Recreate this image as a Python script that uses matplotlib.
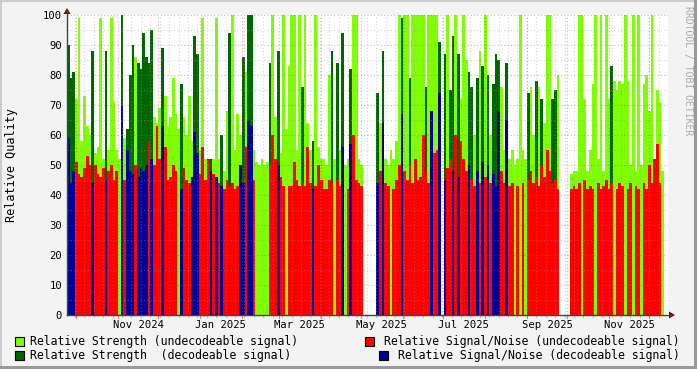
import datetime as dt
import matplotlib
matplotlib.use('Agg')
import matplotlib.pyplot as plt
from matplotlib.patches import Rectangle, Polygon

plt.rcParams['font.family'] = ['DejaVu Sans Mono', 'DejaVu Sans']

# one sample every 2 days, starting at the left edge of the graph
start = dt.datetime(2024, 9, 24, 2)
step_days = 2

# r = strength undecodeable + s/n undecodeable, b = both decodeable,
# y = strength decodeable + s/n undecodeable, x = strength undecodeable + s/n decodeable,
# g = strength only (undecodeable), n = no data
kinds = ("bbbrrrrrrb" "rrrrbrrrrg" "brbbbrbbbb" "ybrrrbrrrr" "rgbrrrxbbr"
         "rrrbrxrbrr" "yrrrxbrbbr" "gggggyrrbr" "rgrrrrryrr" "rbrrrrrryg"
         "yrbgrbrrrr" "nnnnnbrbrr" "grrrbrryrr" "rrryrxrrbn" "brybrbrrrb"
         "yrbrbrbrbb" "brrbrrgrgr" "gyrryryrrr" "yyrnnnnrrr" "rgrrrrgrrr"
         "rrygrrrgrr" "grrgrrrrrr" "rgnn")

strength = [
    90, 79, 81, 72, 99, 58, 73, 63, 60, 88,
    54, 56, 99, 52, 88, 55, 99, 71, 55, 52,
    100, 59, 62, 80, 90, 86, 84, 82, 94, 86,
    84, 95, 66, 64, 69, 89, 73, 63, 66, 79,
    67, 62, 77, 66, 60, 73, 58, 93, 87, 55,
    99, 52, 50, 52, 52, 99, 52, 60, 48, 68,
    94, 100, 55, 67, 60, 86, 81, 100, 100, 55,
    51, 50, 52, 50, 51, 84, 100, 66, 88, 54,
    100, 62, 83, 100, 100, 55, 100, 76, 100, 64,
    55, 58, 100, 56, 52, 52, 50, 80, 88, 52,
    84, 55, 94, 50, 52, 82, 100, 100, 52, 50,
    0, 0, 0, 0, 0, 74, 64, 88, 52, 50,
    55, 52, 58, 100, 99, 100, 100, 79, 100, 100,
    100, 100, 100, 76, 100, 100, 100, 100, 91, 0,
    87, 100, 75, 93, 100, 87, 72, 100, 85, 81,
    76, 60, 79, 88, 83, 100, 80, 60, 77, 87,
    85, 76, 55, 84, 52, 55, 50, 52, 100, 55,
    52, 74, 76, 60, 78, 76, 72, 64, 100, 100,
    72, 75, 80, 0, 0, 0, 0, 47, 48, 48,
    100, 100, 72, 48, 55, 77, 100, 52, 100, 48,
    100, 72, 83, 78, 75, 78, 77, 100, 78, 50,
    100, 48, 100, 50, 77, 80, 68, 100, 48, 75,
    71, 48, 0, 0,
]

signal_noise = [
    59, 44, 48, 51, 47, 46, 49, 53, 50, 44,
    50, 47, 46, 49, 45, 48, 50, 45, 48, 0,
    70, 45, 55, 48, 47, 50, 46, 49, 48, 50,
    58, 52, 50, 63, 52, 63, 56, 45, 46, 50,
    48, 0, 42, 49, 45, 44, 46, 61, 54, 47,
    56, 45, 52, 48, 47, 46, 44, 43, 42, 45,
    43, 44, 42, 43, 50, 44, 56, 65, 63, 45,
    0, 0, 0, 0, 0, 50, 60, 52, 50, 46,
    43, 0, 43, 43, 51, 45, 43, 44, 43, 56,
    44, 42, 43, 50, 45, 42, 42, 45, 44, 0,
    45, 43, 56, 0, 42, 57, 60, 45, 44, 43,
    0, 0, 0, 0, 0, 44, 48, 64, 44, 43,
    0, 42, 45, 50, 67, 48, 45, 50, 44, 52,
    45, 46, 60, 48, 44, 68, 54, 55, 74, 0,
    45, 49, 52, 48, 60, 46, 58, 52, 48, 50,
    45, 43, 48, 44, 51, 46, 50, 44, 47, 43,
    68, 48, 44, 65, 43, 44, 0, 43, 0, 44,
    0, 45, 48, 44, 46, 43, 50, 46, 55, 48,
    44, 45, 42, 0, 0, 0, 0, 42, 43, 42,
    44, 0, 45, 42, 43, 42, 0, 44, 42, 43,
    45, 42, 44, 0, 42, 44, 43, 0, 42, 44,
    0, 43, 42, 0, 44, 42, 50, 44, 52, 57,
    44, 0, 0, 0,
]

month_labels = ['Nov 2024', 'Jan 2025', 'Mar 2025', 'May 2025', 'Jul 2025', 'Sep 2025', 'Nov 2025']
month_label_dates = [dt.datetime(2024, 11, 16), dt.datetime(2025, 1, 16), dt.datetime(2025, 3, 16),
                     dt.datetime(2025, 5, 16), dt.datetime(2025, 7, 16), dt.datetime(2025, 9, 16),
                     dt.datetime(2025, 11, 16)]
month_starts = [dt.datetime(2024, 10, 1), dt.datetime(2024, 11, 1), dt.datetime(2024, 12, 1),
                dt.datetime(2025, 1, 1), dt.datetime(2025, 2, 1), dt.datetime(2025, 3, 1),
                dt.datetime(2025, 4, 1), dt.datetime(2025, 5, 1), dt.datetime(2025, 6, 1),
                dt.datetime(2025, 7, 1), dt.datetime(2025, 8, 1), dt.datetime(2025, 9, 1),
                dt.datetime(2025, 10, 1), dt.datetime(2025, 11, 1), dt.datetime(2025, 12, 1)]

legend_labels = ['Relative Strength (undecodeable signal)',
                 'Relative Signal/Noise (undecodeable signal)',
                 'Relative Strength  (decodeable signal)',
                 'Relative Signal/Noise (decodeable signal)']

C_LIGHT = '#80FF00'
C_DARK = '#006600'
C_RED = '#FF0000'
C_BLUE = '#000099'
C_GRID = '#9A9A9A'
C_MGRID = '#D04040'

W, H = 697, 369
fig = plt.figure(figsize=(W / 100, H / 100), dpi=100, facecolor='#F3F3F3')

# frame shading like rrdtool
fig.patches.append(Rectangle((0, 0), 2 / W, 1, transform=fig.transFigure, fc='#CBCBCB', ec='none'))
fig.patches.append(Rectangle((0, 1 - 2 / H), 1, 2 / H, transform=fig.transFigure, fc='#CBCBCB', ec='none'))
fig.patches.append(Rectangle((1 - 3 / W, 0), 3 / W, 1, transform=fig.transFigure, fc='#999999', ec='none'))
fig.patches.append(Rectangle((0, 0), 1, 3 / H, transform=fig.transFigure, fc='#999999', ec='none'))

left, right, top, bottom = 67, 668, 15, 315
ax = fig.add_axes([left / W, 1 - bottom / H, (right - left) / W, (bottom - top) / H])
ax.set_facecolor('white')
for s in ax.spines.values():
    s.set_visible(False)

n = len(kinds)
xs = [start + dt.timedelta(days=step_days * i) for i in range(n)]
width = dt.timedelta(days=step_days)
end = start + dt.timedelta(days=(right - left) / 1.345)

light = [strength[i] if kinds[i] in 'rgx' else 0 for i in range(n)]
dark = [strength[i] if kinds[i] in 'by' else 0 for i in range(n)]
red = [signal_noise[i] if kinds[i] in 'ry' else 0 for i in range(n)]
blue = [signal_noise[i] if kinds[i] in 'bx' else 0 for i in range(n)]

for vals, col in ((light, C_LIGHT), (dark, C_DARK), (red, C_RED), (blue, C_BLUE)):
    ax.bar(xs, vals, width=width, align='edge', color=col, linewidth=0, antialiased=False, zorder=2)

ax.set_xlim(start, end)
ax.set_ylim(0, 100)

# grid (drawn on top like rrdtool)
grid_kw = dict(linestyle=(0, (1, 2)), linewidth=0.8, zorder=3)
for v in range(5, 100, 10):
    ax.axhline(v, color=C_GRID, alpha=0.45, **grid_kw)
for v in range(10, 101, 10):
    ax.axhline(v, color=C_MGRID, alpha=0.45, **grid_kw)

weeks = []
d = dt.datetime(2024, 9, 30)
while d < end:
    weeks.append(d)
    ax.axvline(d, color=C_GRID, alpha=0.45, **grid_kw)
    d += dt.timedelta(days=7)
for d in month_starts:
    ax.axvline(d, color=C_MGRID, alpha=0.45, **grid_kw)

# small tick marks outside the plot area
for d in weeks:
    ax.plot([d, d], [0, -0.8], color=C_GRID, lw=0.8, alpha=0.6, clip_on=False, zorder=3)
for d in month_starts:
    ax.plot([d, d], [0, -1.0], color=C_MGRID, lw=0.8, alpha=0.6, clip_on=False, zorder=3)

ax.set_yticks(range(0, 101, 10))
ax.set_yticklabels([str(v) for v in range(0, 101, 10)], fontsize=7.6)
ax.set_xticks(month_label_dates)
ax.set_xticklabels(month_labels, fontsize=7.6)
ax.tick_params(axis='both', length=0, pad=3.5)
fig.text(12 / W, 1 - 165 / H, 'Relative Quality', rotation=90, fontsize=8.5, ha='center', va='center')

# axes with arrows
fig.add_artist(plt.Line2D([left / W, (right + 3) / W], [1 - bottom / H] * 2, transform=fig.transFigure,
                          color='#2C4D43', lw=1))
fig.add_artist(plt.Line2D([left / W] * 2, [1 - bottom / H, 1 - 10 / H], transform=fig.transFigure,
                          color='#2C4D43', lw=1))
fig.patches.append(Polygon([((right + 1) / W, 1 - (bottom - 3.5) / H), ((right + 1) / W, 1 - (bottom + 3.5) / H),
                            ((right + 7) / W, 1 - bottom / H)], closed=True, transform=fig.transFigure,
                           fc='#7F0000', ec='none'))
fig.patches.append(Polygon([((left - 3.5) / W, 1 - 14 / H), ((left + 3.5) / W, 1 - 14 / H),
                            (left / W, 1 - 8 / H)], closed=True, transform=fig.transFigure,
                           fc='#7F0000', ec='none'))

# legend
legend_cols = [C_LIGHT, C_RED, C_DARK, C_BLUE]
rows_y = [341, 355]
for k, (lab, col) in enumerate(zip(legend_labels, legend_cols)):
    row = k // 2
    yc = 1 - rows_y[row] / H
    if k % 2 == 0:
        sx = 15
        fig.text((sx + 15) / W, yc, lab, fontsize=8.3, va='center', ha='left')
    else:
        fig.text(680 / W, yc, lab, fontsize=8.3, va='center', ha='right')
        sx = 365 if row == 0 else 379
    fig.patches.append(Rectangle((sx / W, yc - 4.5 / H), 9 / W, 9 / H, transform=fig.transFigure,
                                 fc=col, ec='black', lw=0.8))

fig.text(688 / W, 1 - 6 / H, 'RRDTOOL / TOBI OETIKER', rotation=270, fontsize=7, color='#AAAAAA',
         ha='center', va='top')

fig.savefig('out.png', dpi=100, facecolor=fig.get_facecolor())
